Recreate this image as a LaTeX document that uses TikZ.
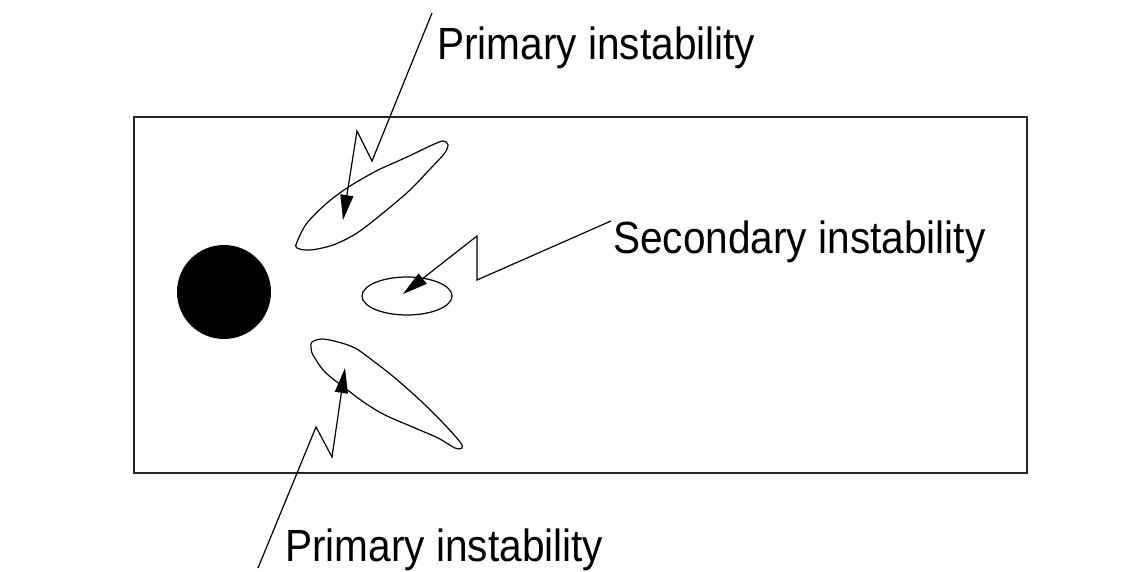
\documentclass[tikz,border=0pt]{standalone}
\usepackage{fontspec}
\usepackage{graphicx}
\setmainfont{Liberation Sans}
\usetikzlibrary{arrows.meta}
\newcommand{\tallText}[1]{\scalebox{1}[1.11]{#1}}
\begin{document}
\begin{tikzpicture}[x=1pt,y=-1pt,
  lbl/.style={anchor=base west,inner sep=0pt,font=\fontsize{40.6}{48}\selectfont},
  thin line/.style={line width=1.2pt,line join=miter},
  pointer/.style={thin line,-{Triangle[length=25pt,width=13pt]}},
  frame/.style={line width=1.8pt,draw=black!85}]
\useasboundingbox (0,0) rectangle (1143,572);
\fill[white] (0,0) rectangle (1143,572);
% frame
\draw[frame] (134,117) rectangle (1027,473);
% cylinder
\node[circle,fill=black,minimum size=94pt,inner sep=0pt] (cyl) at (224,292) {};
% vortices
\draw[thin line] plot[smooth cycle,tension=0.55] coordinates {(297,242) (307,223) (327,203) (347,188) (367,176) (378,170) (407,157) (430,146) (443,141) (448,145) (444,154) (431,168) (410,190) (383,213) (357,233) (333,245) (310,250) (297,248)};
\draw[thin line] plot[smooth cycle,tension=0.55] coordinates {(312,342) (322,339) (338,342) (355,348) (372,360) (395,378) (422,402) (445,425) (460,442) (462,448) (455,448) (438,438) (415,428) (385,415) (365,403) (345,388) (325,372) (313,355) (311,347)};
\draw[thin line] (407,296) ellipse [x radius=45, y radius=19];
% labels
\node[lbl] (ptop) at (437,60) {\tallText{Primary instability}};
\node[lbl] (sec) at (613,253) {\tallText{Secondary instability}};
\node[lbl] (pbot) at (285,561) {\tallText{Primary instability}};
% pointer coordinates
\coordinate (a0) at (432,13);
\coordinate (a1) at (372,161);
\coordinate (a2) at (357,131);
\coordinate (a3) at (343,220);
\coordinate (b0) at (611,221);
\coordinate (b1) at (477,280);
\coordinate (b2) at (477,236);
\coordinate (b3) at (403,294);
\coordinate (c0) at (258,568);
\coordinate (c1) at (316,427);
\coordinate (c2) at (332,457);
\coordinate (c3) at (345,368);
\draw[pointer] (a0) -- (a1) -- (a2) -- (a3);
\draw[pointer] (b0) -- (b1) -- (b2) -- (b3);
\draw[pointer] (c0) -- (c1) -- (c2) -- (c3);
\end{tikzpicture}
\end{document}
